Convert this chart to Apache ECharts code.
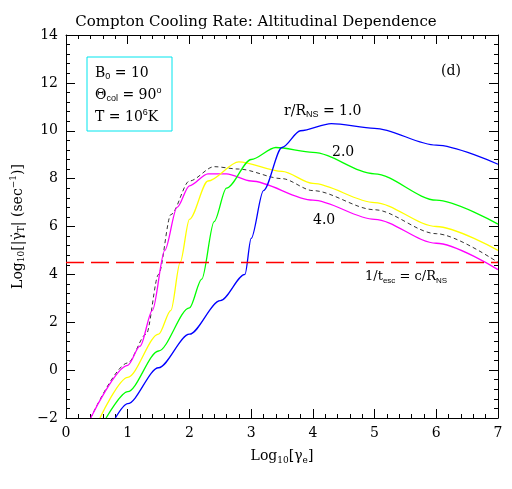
<!DOCTYPE html>
<html>
<head>
<meta charset="utf-8">
<script src="https://cdn.jsdelivr.net/npm/echarts@6/dist/echarts.min.js"></script>
<style>html,body{margin:0;padding:0;background:#fff}#chart{width:512px;height:489px}</style>
</head>
<body>
<div id="chart"></div>
<script>
// r/R_NS = 1.0
const blueCurve = [[0.8,-2],[1,-1.4],[1.5,0.1],[2,1.5],[2.5,2.9],[2.9,4.0],[3.0,5.5],[3.2,7.5],[3.5,9.3],[3.8,10.0],[4.3,10.3],[5,10.1],[6,9.4],[7,8.6]];
// r/R_NS = 2.0
const greenCurve = [[0.65,-2],[1,-0.9],[1.5,0.8],[2,2.6],[2.2,3.8],[2.4,6.2],[2.6,7.6],[3,8.8],[3.4,9.3],[4,9.1],[5,8.2],[6,7.1],[7,6.1]];
// intermediate
const yellowCurve = [[0.55,-2],[1,-0.3],[1.5,1.5],[1.7,2.5],[1.85,4.5],[2,6.3],[2.3,7.9],[2.8,8.7],[3.5,8.3],[4,7.8],[5,7.0],[6,6.0],[7,5.0]];
// r/R_NS = 4.0
const magentaCurve = [[0.4,-2],[1,0.2],[1.2,1.0],[1.4,2.5],[1.6,5.0],[1.8,6.8],[2,7.7],[2.3,8.2],[2.6,8.2],[3,7.9],[4,7.1],[5,6.3],[6,5.3],[7,4.2]];
// thin dashed
const dashedCurve = [[0.4,-2],[1,0.3],[1.3,1.5],[1.5,4.0],[1.7,6.5],[2,7.9],[2.4,8.5],[2.8,8.4],[3.5,8.0],[4,7.5],[5,6.7],[6,5.7],[7,4.5]];
const escapeLevel = 4.5;

const chart = echarts.init(document.getElementById('chart'));
const font = 'DejaVu Serif';
const axisBase = {
  axisLine: {onZero: false, lineStyle: {color: '#000', width: 1}},
  axisTick: {inside: true, length: 9, lineStyle: {color: '#000'}},
  minorTick: {show: true, splitNumber: 5, length: 4, lineStyle: {color: '#000'}},
  splitLine: {show: false},
  axisLabel: {color: '#000', fontFamily: font, fontSize: 14}
};
function line(data, color, extra) {
  return Object.assign({type: 'line', data: data, smooth: 0.3, smoothMonotone: 'x', symbol: 'none', clip: true,
    lineStyle: {color: color, width: 1.3}, silent: true}, extra || {});
}
chart.setOption({
  animation: false,
  title: {text: 'Compton Cooling Rate: Altitudinal Dependence', left: 'center', top: 10,
    textStyle: {fontFamily: font, fontSize: 15, fontWeight: 'normal', color: '#000'}},
  grid: {left: 66, right: 14, top: 35, bottom: 71},
  xAxis: [
    Object.assign({type: 'value', min: 0, max: 7, interval: 1, name: 'Log{s|10}[γ{s|e}]',
      nameLocation: 'middle', nameGap: 30,
      nameTextStyle: {fontFamily: font, fontSize: 14, color: '#000', rich: {s: {fontSize: 9, padding: [8,0,0,0]}}}}, axisBase),
    Object.assign({type: 'value', min: 0, max: 7, interval: 1, position: 'top'}, axisBase, {axisLabel: {show: false}})
  ],
  yAxis: [
    Object.assign({type: 'value', min: -2, max: 14, interval: 2, name: 'Log{s|10}[|γ̇{s|T}| (sec{u|−1})]',
      nameLocation: 'middle', nameGap: 36,
      nameTextStyle: {fontFamily: font, fontSize: 14, color: '#000', rich: {s: {fontSize: 9, padding: [8,0,0,0]}, u: {fontSize: 9, padding: [0,0,8,0]}}}},
      axisBase, {axisLabel: {color: '#000', fontFamily: font, fontSize: 14, formatter: v => v < 0 ? '−' + (-v) : v}}),
    Object.assign({type: 'value', min: -2, max: 14, interval: 2, position: 'right'}, axisBase, {axisLabel: {show: false}})
  ],
  series: [
    line(dashedCurve, '#000', {lineStyle: {color: '#000', width: 0.8, type: [4, 3]}}),
    line(magentaCurve, '#ff00ff'),
    line(yellowCurve, '#ffff00'),
    line(greenCurve, '#00ff00'),
    line(blueCurve, '#0000ff'),
    {type: 'line', data: [[0, escapeLevel], [7, escapeLevel]], symbol: 'none', silent: true,
      lineStyle: {color: '#ff0000', width: 1.5, type: [18, 7]}}
  ],
  graphic: [
    {type: 'rect', shape: {x: 87, y: 57, width: 85, height: 74}, style: {fill: 'none', stroke: '#00e5ee', lineWidth: 1}},
    {type: 'text', left: 95, top: 62, style: {text: 'B{s|0} = 10\nΘ{s|col} = 90{u|o}\nT = 10{u|6}K', font: '14px "DejaVu Serif"', fill: '#000', lineHeight: 22,
      rich: {s: {fontSize: 9, padding: [8,0,0,0]}, u: {fontSize: 9, padding: [0,0,8,0]}}}},
    {type: 'text', left: 441, top: 64, style: {text: '(d)', font: '14px "DejaVu Serif"', fill: '#000'}},
    {type: 'text', left: 284, top: 104, style: {text: 'r/R{s|NS} = 1.0', font: '14px "DejaVu Serif"', fill: '#000',
      rich: {s: {fontSize: 9, padding: [8,0,0,0]}}}},
    {type: 'text', left: 332, top: 145, style: {text: '2.0', font: '14px "DejaVu Serif"', fill: '#000'}},
    {type: 'text', left: 313, top: 213, style: {text: '4.0', font: '14px "DejaVu Serif"', fill: '#000'}},
    {type: 'text', left: 365, top: 270, style: {text: '1/t{s|esc} = c/R{s|NS}', font: '13px "DejaVu Serif"', fill: '#000',
      rich: {s: {fontSize: 8, padding: [8,0,0,0]}}}}
  ]
});
window.addEventListener('resize', chart.resize);
</script>
</body>
</html>
